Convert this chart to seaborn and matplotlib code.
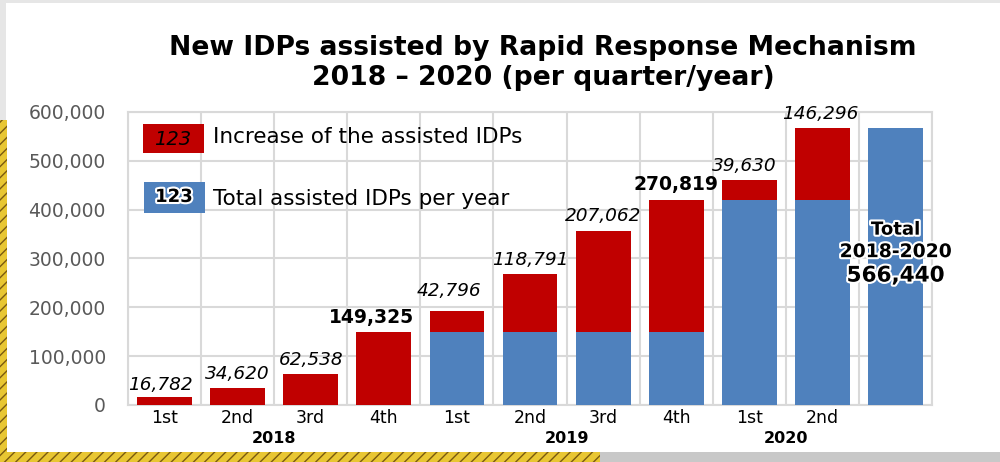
import matplotlib
matplotlib.use("Agg")
import matplotlib.pyplot as plt
import matplotlib.patheffects as pe
from matplotlib.patches import Rectangle
import seaborn as sns
import pandas as pd
import numpy as np

# ---------------- data ----------------
categories = ["2018-1", "2018-2", "2018-3", "2018-4",
              "2019-1", "2019-2", "2019-3", "2019-4",
              "2020-1", "2020-2", "Total"]
quarter_labels = ["1st", "2nd", "3rd", "4th",
                  "1st", "2nd", "3rd", "4th",
                  "1st", "2nd", ""]
years = ["2018", "2019", "2020"]
year_groups = [[0, 1, 2, 3], [4, 5, 6, 7], [8, 9]]
# total assisted IDPs carried over from previous years (blue)
base_total = [0, 0, 0, 0,
              149325, 149325, 149325, 149325,
              420144, 420144, 566440]
# increase within the current year (red)
increase = [16782, 34620, 62538, 149325,
            42796, 118791, 207062, 270819,
            39630, 146296, 0]
value_labels = ["16,782", "34,620", "62,538", "149,325",
                "42,796", "118,791", "207,062", "270,819",
                "39,630", "146,296", ""]
bold_labels = [False, False, False, True,
               False, False, False, True,
               False, False, False]
grand_total = "566,440"
yticks = [0, 100000, 200000, 300000, 400000, 500000, 600000]

RED = "#C00000"
BLUE = "#4F81BD"
GRID = "#D9D9D9"

df = pd.DataFrame({
    "cat": categories,
    "base": base_total,
    "inc": increase,
})
df["top"] = df["base"] + df["inc"]

sns.set_theme(style="white")
plt.rcParams["font.family"] = ["DejaVu Sans"]

fig = plt.figure(figsize=(10, 4.62), dpi=100)
fig.patch.set_facecolor("white")

# decorative background border (screenshot frame)
fig.add_artist(Rectangle((0, 0), 0.007, 0.74, transform=fig.transFigure,
                         facecolor="#E8C632", edgecolor="#7A5A10", hatch="///",
                         linewidth=0, zorder=0))
fig.add_artist(Rectangle((0, 0), 0.6, 0.021, transform=fig.transFigure,
                         facecolor="#E8C632", edgecolor="#7A5A10", hatch="///",
                         linewidth=0, zorder=0))
fig.add_artist(Rectangle((0.6, 0), 0.4, 0.021, transform=fig.transFigure,
                         facecolor="#C8C8C8", edgecolor="none", zorder=0))
fig.add_artist(Rectangle((0, 0.74), 0.006, 0.26, transform=fig.transFigure,
                         facecolor="#E6E6E6", edgecolor="none", zorder=0))
fig.add_artist(Rectangle((0, 0.994), 1, 0.006, transform=fig.transFigure,
                         facecolor="#E6E6E6", edgecolor="none", zorder=0))

ax = fig.add_axes([0.128, 0.1234, 0.804, 0.6342])

sns.barplot(data=df, x="cat", y="top", color=RED, width=0.75,
            saturation=1, ax=ax, zorder=3, order=categories,
            linewidth=0, edgecolor="none")
sns.barplot(data=df, x="cat", y="base", color=BLUE, width=0.75,
            saturation=1, ax=ax, zorder=4, order=categories,
            linewidth=0, edgecolor="none")

n = len(categories)
ax.set_xlim(-0.5, n - 0.5)
ax.set_ylim(0, 600000)
ax.set_yticks(yticks)
ax.set_yticklabels([f"{v:,}" for v in yticks], color="#595959", fontsize=13.5)
ax.set_xticks(range(n))
ax.set_xticklabels(quarter_labels, color="black", fontsize=12.5)
ax.set_xlabel("")
ax.set_ylabel("")
ax.tick_params(axis="both", length=0)
ax.tick_params(axis="x", pad=3)
ax.tick_params(axis="y", pad=16)

# grid: horizontal at y ticks, vertical at category boundaries
ax.set_xticks(np.arange(-0.5, n, 1.0), minor=True)
ax.grid(True, axis="y", which="major", color=GRID, linewidth=1.5, zorder=0)
ax.grid(True, axis="x", which="minor", color=GRID, linewidth=1.5, zorder=0)
ax.grid(False, axis="x", which="major")
ax.set_axisbelow(True)
for s in ax.spines.values():
    s.set_visible(True)
    s.set_color(GRID)
    s.set_linewidth(1.5)

# value labels
dx = [-4, 0, 0, -12, -8, 0, 0, 0, -5, -2, 0]
dy = [2, 4, 4, 4, 8, 4, 4, 4, 4, 4, 0]
for i, (lab, b) in enumerate(zip(value_labels, bold_labels)):
    if not lab:
        continue
    ax.annotate(lab, (i, df["top"][i]), xytext=(dx[i] * 0.72, dy[i]),
                textcoords="offset points", ha="center", va="bottom",
                fontsize=13.5 if b else 13.3,
                fontweight="bold" if b else "normal",
                fontstyle="normal" if b else "italic",
                color="black", zorder=6, annotation_clip=False)

# total label on last bar
stroke = [pe.withStroke(linewidth=3, foreground="white")]
ax.text(n - 1, 359000, "Total", ha="center", va="center",
        fontsize=13, fontweight="bold", color="black",
        path_effects=stroke, zorder=7)
ax.text(n - 1, 314000, "2018-2020", ha="center", va="center",
        fontsize=13.5, fontweight="bold", color="black",
        path_effects=stroke, zorder=7)
ax.text(n - 1, 265000, grand_total, ha="center", va="center",
        fontsize=15.5, fontweight="bold", color="black",
        path_effects=stroke, zorder=7)

# year labels
for yr, grp in zip(years, year_groups):
    xc = np.mean(grp)
    ax.annotate(yr, (xc, 0), xytext=(0, -19), textcoords="offset points",
                ha="center", va="top", fontsize=11.5, fontweight="bold",
                color="black", annotation_clip=False,
                xycoords=("data", "axes fraction"))

# custom legend
ax.add_patch(Rectangle((0.0187, 0.860), 0.0758, 0.099, transform=ax.transAxes,
                       facecolor=RED, edgecolor="none", zorder=8))
ax.text(0.056, 0.907, "123", transform=ax.transAxes, ha="center", va="center",
        fontsize=14, fontstyle="italic", color="black", zorder=9)
ax.text(0.106, 0.913, "Increase of the assisted IDPs", transform=ax.transAxes,
        ha="left", va="center", fontsize=15.5, color="black", zorder=9)
ax.add_patch(Rectangle((0.020, 0.655), 0.0758, 0.106, transform=ax.transAxes,
                       facecolor=BLUE, edgecolor="none", zorder=8))
ax.text(0.057, 0.710, "123", transform=ax.transAxes, ha="center", va="center",
        fontsize=13, fontweight="bold", color="black",
        path_effects=stroke, zorder=9)
ax.text(0.106, 0.704, "Total assisted IDPs per year", transform=ax.transAxes,
        ha="left", va="center", fontsize=15.5, color="black", zorder=9)

# title
fig.text(0.543, 1 - 35 / 462,
         "New IDPs assisted by Rapid Response Mechanism\n2018 \u2013 2020 (per quarter/year)",
         ha="center", va="top", fontsize=19.2, fontweight="bold",
         color="black", linespacing=1.2)

fig.savefig("out.png", dpi=100, facecolor=fig.get_facecolor())
